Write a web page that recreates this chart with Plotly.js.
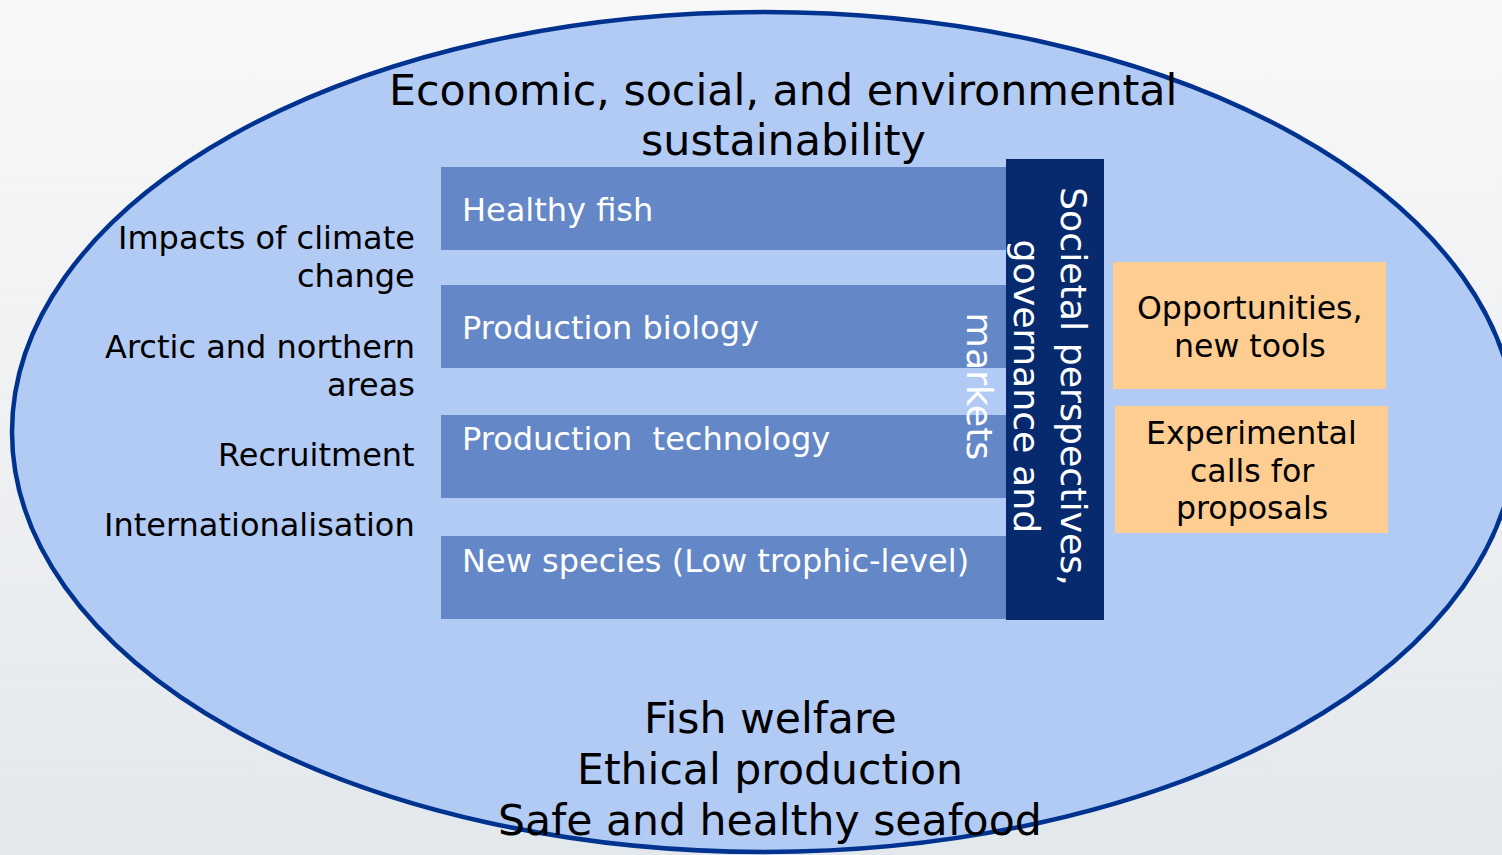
<!DOCTYPE html>
<html>
<head>
<meta charset="utf-8">
<script src="https://cdn.plot.ly/plotly-3.0.1.min.js"></script>
<style>html,body{margin:0;padding:0;overflow:hidden;}#chart{width:1502px;height:855px;}</style>
</head>
<body>
<div id="chart"></div>
<script>
// ---- Content (text) ----
const titleLines = ["Economic, social, and environmental", "sustainability"];
const themes = ["Healthy fish", "Production biology", "Production\u00a0\u00a0technology", "New species (Low trophic-level)"];
const crossCutting = ["Impacts of climate<br>change", "Arctic and northern<br>areas", "Recruitment", "Internationalisation"];
const verticalLabel = ["Societal perspectives,", "governance and", "markets"];
const instruments = ["Opportunities,<br>new tools", "Experimental<br>calls for<br>proposals"];
const outcomes = ["Fish welfare", "Ethical production", "Safe and healthy seafood"];

// ---- Layout geometry (pixel space) ----
const W = 1502, H = 855;
const FONT = "DejaVu Sans, Verdana, sans-serif";
const themeBarTop = [167, 285, 415, 536];
const themeBarH = 83;
const themeTextY = [210, 328, 439, 561];
const crossTopY = [238, 347, 455, 525];
const crossLineGap = 38;
const instrBoxes = [[1113, 262, 1386, 389], [1115, 406, 1388, 533]];
const instrTopY = [308, 433];
const instrLineGap = 37.5;
const outcomeY = [718, 769, 820];
const titleY = [90, 140];

const bg = 'data:image/svg+xml;utf8,' + encodeURIComponent(
  '<svg xmlns="http://www.w3.org/2000/svg" width="1502" height="855"><defs>' +
  '<linearGradient id="g" x1="0" y1="0" x2="0" y2="1">' +
  '<stop offset="0" stop-color="#f8f8f8"/><stop offset="0.45" stop-color="#f0f1f3"/><stop offset="1" stop-color="#e3e8ec"/>' +
  '</linearGradient></defs><rect width="1502" height="855" fill="url(#g)"/></svg>');

const shapes = [];
// main ellipse
shapes.push({type: 'circle', xref: 'x', yref: 'y', x0: 12, x1: 1516, y0: 12, y1: 852,
  fillcolor: '#b2cbf5', line: {color: '#00338f', width: 4.5}, layer: 'below'});
// theme bars
themes.forEach((t, i) => {
  shapes.push({type: 'rect', x0: 441, x1: 1006, y0: themeBarTop[i], y1: themeBarTop[i] + themeBarH,
    fillcolor: '#6487c7', line: {width: 0}, layer: 'below'});
});
// navy vertical column
shapes.push({type: 'rect', x0: 1006, x1: 1104, y0: 159, y1: 620,
  fillcolor: '#062a6d', line: {width: 0}, layer: 'below'});
// orange boxes
instrBoxes.forEach(b => {
  shapes.push({type: 'rect', x0: b[0], y0: b[1], x1: b[2], y1: b[3],
    fillcolor: '#fecd92', line: {width: 0}, layer: 'below'});
});

const annotations = [];
titleLines.forEach((t, i) => annotations.push({x: 783, y: titleY[i], text: t, showarrow: false,
  xanchor: 'center', yanchor: 'middle', font: {family: FONT, size: 42.8, color: '#000'}}));
themes.forEach((t, i) => annotations.push({x: 460, y: themeTextY[i], text: t, showarrow: false,
  xanchor: 'left', yanchor: 'middle', font: {family: FONT, size: 32, color: '#ffffff'}}));
crossCutting.forEach((t, i) => {
  t.split('<br>').forEach((line, j) => annotations.push({x: 417, y: crossTopY[i] + j * crossLineGap,
    text: line, showarrow: false, xanchor: 'right', yanchor: 'middle', align: 'right',
    font: {family: FONT, size: 32, color: '#000'}}));
});
annotations.push({x: 1027, y: 386, text: verticalLabel.join('<br>'), showarrow: false, textangle: 90,
  xanchor: 'center', yanchor: 'middle', align: 'center', font: {family: FONT, size: 36.3, color: '#ffffff'}});
instruments.forEach((t, i) => {
  const b = instrBoxes[i];
  t.split('<br>').forEach((line, j) => annotations.push({x: (b[0] + b[2]) / 2, y: instrTopY[i] + j * instrLineGap,
    text: line, showarrow: false, xanchor: 'center', yanchor: 'middle',
    font: {family: FONT, size: 31.6, color: '#000'}}));
});
outcomes.forEach((t, i) => annotations.push({x: 770, y: outcomeY[i], text: t, showarrow: false,
  xanchor: 'center', yanchor: 'middle', font: {family: FONT, size: 42.6, color: '#000'}}));

const layout = {
  width: W, height: H,
  margin: {l: 0, r: 0, t: 0, b: 0, pad: 0},
  paper_bgcolor: '#eef0f2', plot_bgcolor: 'rgba(0,0,0,0)',
  xaxis: {range: [0, W], visible: false, fixedrange: true},
  yaxis: {range: [H, 0], visible: false, fixedrange: true},
  showlegend: false,
  images: [{source: bg, xref: 'paper', yref: 'paper', x: 0, y: 1, sizex: 1, sizey: 1,
    sizing: 'stretch', xanchor: 'left', yanchor: 'top', layer: 'below'}],
  shapes: shapes,
  annotations: annotations
};

Plotly.newPlot('chart', [{x: [], y: [], type: 'scatter', hoverinfo: 'skip'}], layout,
  {staticPlot: true, displayModeBar: false});
</script>
</body>
</html>
